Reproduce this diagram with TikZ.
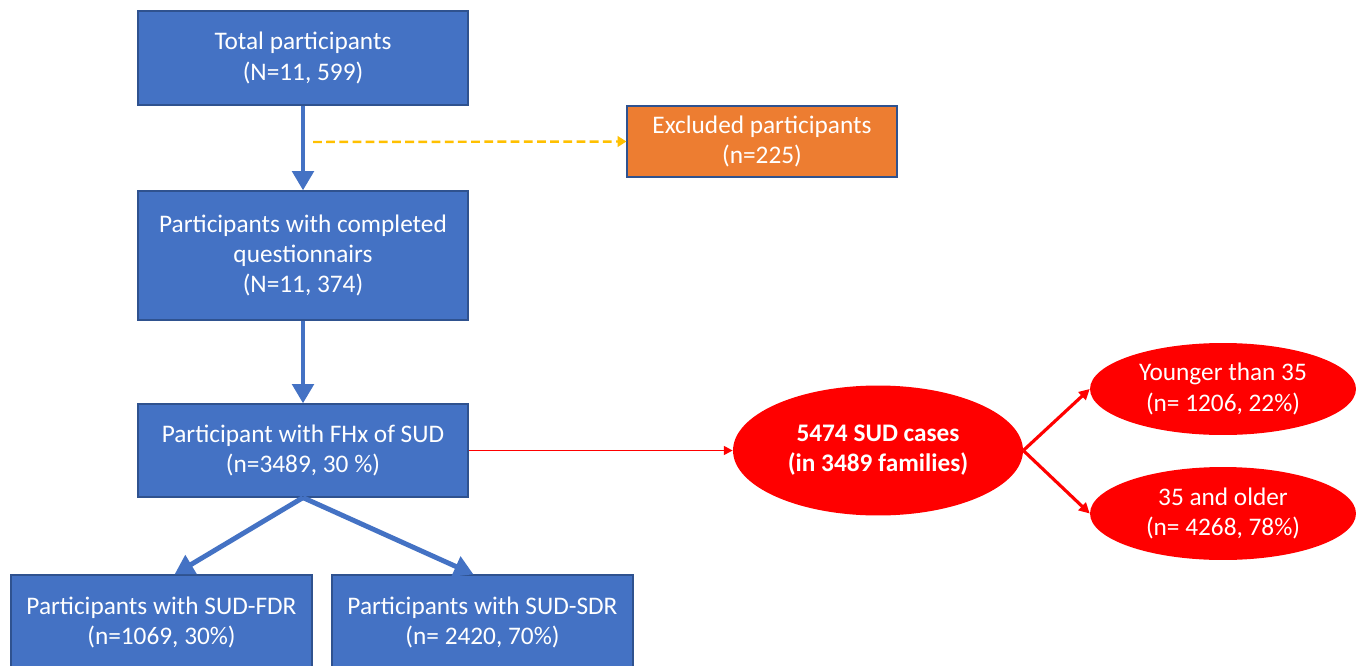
\documentclass[tikz,border=0pt]{standalone}
\usepackage{fontspec}
\setmainfont{Carlito}
\usetikzlibrary{arrows.meta,shapes.geometric,calc}
\definecolor{boxblue}{HTML}{4472C4}
\definecolor{edgeblue}{HTML}{2F528F}
\definecolor{exorange}{HTML}{ED7D31}
\definecolor{dashyellow}{HTML}{FFC000}
\definecolor{ellred}{HTML}{FF0000}
\begin{document}
\begin{tikzpicture}[x=0.02cm,y=-0.02cm,
  box/.style={rectangle, fill=boxblue, draw=edgeblue, line width=0.7pt, text=white,
    align=center, inner sep=0pt, font=\fontsize{14.4}{17.2}\selectfont},
  exbox/.style={box, fill=exorange, draw=edgeblue},
  redell/.style={ellipse, fill=ellred, draw=none, text=white, align=center,
    inner sep=0pt, font=\fontsize{14.4}{17.2}\selectfont},
  bluearrow/.style={draw=boxblue, line width=2.8pt, -{Triangle[length=11pt,width=12pt]}},
  dasharrow/.style={draw=dashyellow, line width=1.4pt, dash pattern=on 5pt off 2.5pt,
    -{Triangle[length=5pt,width=6pt]}},
  redarrow/.style={draw=ellred, line width=1.1pt, -{Triangle[length=5pt,width=5pt]}},
  redarrowb/.style={draw=ellred, line width=1.8pt, -{Triangle[length=6pt,width=6pt]}}
]
\useasboundingbox (0,0) rectangle (1356,666);
\fill[white] (0,0) rectangle (1356,666);

\node[box, minimum width=6.6cm, minimum height=1.88cm] (b1) at (303,58)
  {Total participants\\(N=11, 599)};
\node[exbox, minimum width=5.4cm, minimum height=1.42cm] (ex) at (762,141.5)
  {Excluded participants\\(n=225)};
\node[box, minimum width=6.6cm, minimum height=2.58cm] (b2) at (303,255.5)
  {Participants with completed\\questionnairs\\(N=11, 374)};
\node[box, minimum width=6.6cm, minimum height=1.86cm] (b3) at (303,450.5)
  {Participant with FHx of SUD\\(n=3489, 30 \%)};
\node[box, minimum width=6.02cm, minimum height=1.9cm] (b4) at (161.5,622.5)
  {Participants with SUD-FDR\\(n=1069, 30\%)};
\node[box, minimum width=6.02cm, minimum height=1.9cm] (b5) at (482.5,622.5)
  {Participants with SUD-SDR\\(n= 2420, 70\%)};

\node[redell, minimum width=5.8cm, minimum height=2.6cm, font=\fontsize{14.4}{17.2}\selectfont\bfseries] (e1) at (878,450.5)
  {5474 SUD cases\\(in 3489 families)};
\node[redell, minimum width=5.32cm, minimum height=1.84cm] (e2) at (1223,389)
  {Younger than 35\\(n= 1206, 22\%)};
\node[redell, minimum width=5.32cm, minimum height=1.86cm] (e3) at (1223,513.5)
  {35 and older\\(n= 4268, 78\%)};

\coordinate (dstart) at (313,142);

\draw[bluearrow] (b1.south) -- (b2.north);
\draw[dasharrow] (dstart) -- (ex.west);
\draw[bluearrow] (b2.south) -- (b3.north);
\draw[bluearrow] (b3.south) -- ($(b4.north)+(13,0)$);
\draw[bluearrow] (b3.south) -- ($(b5.north)+(-9,0)$);
\draw[redarrow] (b3.east) -- (e1.west);
\draw[redarrowb] (e1.east) -- (e2.west);
\draw[redarrowb] (e1.east) -- (e3.west);
\end{tikzpicture}
\end{document}
